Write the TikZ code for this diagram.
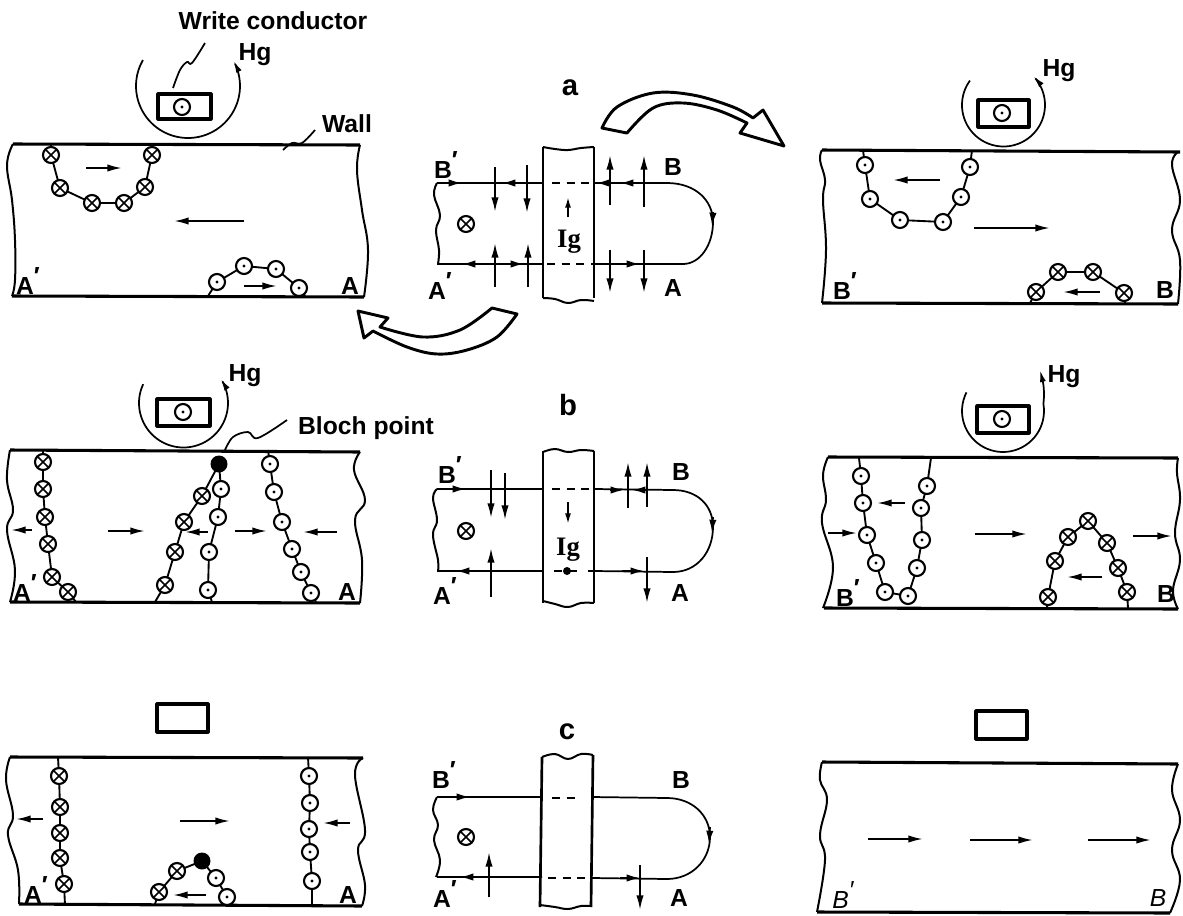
\documentclass[tikz,border=0pt]{standalone}
\usepackage{fontspec}
\setmainfont{Liberation Sans}
\newfontfamily\serifig{Liberation Serif}
\usetikzlibrary{arrows.meta}
\tikzset{
  band/.style={line width=1.5pt,line join=round},
  wallline/.style={line width=2.3pt},
  thin line/.style={line width=1.3pt},
  fieldarrow/.style={line width=1.4pt,-{Latex[length=11pt,width=5.5pt]}},
  smallarrow/.style={line width=1.3pt,-{Latex[length=8pt,width=4.5pt]}},
  headonly/.style={line width=1.3pt,-{Latex[length=10pt,width=5.5pt]}},
  arcarrow/.style={line width=1.3pt,-{Latex[length=9pt,width=4.5pt]}},
  label/.style={font=\bfseries\fontsize{18.5}{18.5}\selectfont,inner sep=0pt},
  biglabel/.style={font=\bfseries\fontsize{22}{22}\selectfont,inner sep=0pt},
  iglabel/.style={font=\serifig\bfseries\fontsize{20}{20}\selectfont,inner sep=0pt},
  itlabel/.style={font=\itshape\fontsize{18.5}{18.5}\selectfont,inner sep=0pt},
  conductor/.style={draw,line width=2.3pt,line join=round},
  curvedarrow/.style={draw,fill=white,line width=2.2pt,line join=round},
  barline/.style={line width=2pt},
  dashline/.style={line width=1.4pt,dash pattern=on 6pt off 5pt},
}
\newcommand{\pr}{\raisebox{.38em}{′}}
\newcommand{\dc}[2]{\draw[line width=1.6pt,fill=white] (#1,#2) circle[radius=8];\fill (#1,#2) circle[radius=1.6];}
\newcommand{\xc}[2]{\draw[line width=1.6pt,fill=white] (#1,#2) circle[radius=8];\draw[line width=1.3pt] (#1-5.6,#2-5.6)--(#1+5.6,#2+5.6) (#1-5.6,#2+5.6)--(#1+5.6,#2-5.6);}
\newcommand{\bloch}[2]{\fill (#1,#2) circle[radius=8.5];}
\newcommand{\ar}[4]{\draw[fieldarrow] (#1,#2)--(#3,#4);}
\newcommand{\sar}[4]{\draw[smallarrow] (#1,#2)--(#3,#4);}
\newcommand{\head}[4]{\draw[headonly] (#1,#2)--(#3,#4);}
\newcommand{\chainstraight}[1]{\draw[line width=1.4pt] plot coordinates{#1};}
\newcommand{\edge}[1]{\draw[band] plot[smooth,tension=.7] coordinates{#1};}
\newcommand{\harc}[5]{\draw[arcarrow] plot[domain=#4:#5,samples=40,smooth] ({#1+#3*cos(\x)},{#2+#3*sin(\x)});}
\begin{document}
\begin{tikzpicture}[x=0.75pt,y=-0.75pt]
\useasboundingbox (0,0) rectangle (1183,915);
% ---------- panel a left
\draw[wallline] (13,144)--(360,145) (12,296)--(364,297);
\edge{(13,144)(7,165)(12,200)(15,240)(15,280)(12,296)}
\edge{(360,145)(357,170)(362,210)(368,250)(364,297)}
\chainstraight{(51,145)(51,155)(60,188)(92,203)(124,203)(145,187)(152,155)(152,145)}
\xc{51}{155}\xc{152}{155}\xc{60}{188}\xc{145}{187}\xc{92}{203}\xc{124}{203}
\chainstraight{(208,296)(217,282)(244,266)(276,269)(299,288)(305,296)}
\dc{217}{282}\dc{244}{266}\dc{276}{269}\dc{299}{288}
\ar{86}{168}{122}{168}\ar{244}{221}{174}{221}\ar{244}{286}{277}{286}
\draw[conductor] (158,94) rectangle (211,119);\dc{182}{107}
\harc{188}{86}{52}{210}{-29}{}
\draw[thin line] plot[smooth,tension=.6] coordinates{(173,88)(180,70)(187,62)(192,63)(205,43)};
\draw[thin line] plot[smooth,tension=.6] coordinates{(283,150)(292,143)(302,143)(315,130)};
\node[label] (writelabel) at (273,21) {Write conductor};
\node[label] (hg1) at (255,55) {Hg};
\node[label] (wall) at (347,124) {Wall};
\node[label] (a1) at (28,281) {A\pr};
\node[label] (a2) at (350,286) {A};
% ---------- centre a
\draw[thin line] (437,183)--(543,183) (594,183)--(667,183) (437,264)--(543,264) (594,264)--(683,264);
\draw[thin line] (667,183) .. controls (695,183) and (713,200) .. (713,222) .. controls (713,245) and (700,264) .. (683,264);
\edge{(437,183)(434,195)(440,215)(436,230)(439,250)(438,264)}
\draw[barline] (543,147)--(543,298) (594,147)--(594,298);
\edge{(543,147)(555,149)(568,150)(581,148)(594,147)}
\edge{(543,298)(555,299)(568,303)(581,300)(594,301)}
\draw[dashline] (552,183)--(593,183) (547,264)--(593,264);
\head{446}{183}{462}{183}\head{518}{183}{502}{183}\head{612}{183}{596}{183}\head{636}{183}{620}{183}
\head{478}{264}{462}{264}\head{508}{264}{524}{264}\head{622}{264}{640}{264}
\head{713}{212}{712}{226}
\ar{495}{167}{495}{212}\ar{527}{165}{527}{213}\ar{495}{287}{495}{243}\ar{528}{287}{528}{243}
\ar{610}{205}{610}{155}\ar{644}{207}{644}{155}\ar{610}{250}{610}{293}\ar{644}{250}{644}{293}
\sar{568}{217}{568}{197}
\xc{466}{224}
\node[biglabel] (lbla) at (570,88) {a};
\node[label] (tb1) at (446,165) {B\pr};
\node[label] (tb2) at (673,167) {B};
\node[label] (ta1) at (440,286) {A\pr};
\node[label] (ta2) at (673,288) {A};
\node[iglabel] (ig1) at (569,242) {Ig};
% curved arrows
\draw[curvedarrow] plot[smooth,tension=.6] coordinates{(602,128)(617,107)(653,93)(693,95)(733,107)(753,118)}
  -- (763,110)--(784,146)--(740,133)--(747,123)
  -- plot[smooth,tension=.6] coordinates{(747,123)(717,110)(683,103)(653,108)(627,133)} -- cycle;
\draw[curvedarrow] (358,311)--(388,318)--(380,327)
  -- plot[smooth,tension=.6] coordinates{(380,327)(423,337)(460,330)(492,308)}
  -- (517,314)
  -- plot[smooth,tension=.6] coordinates{(517,314)(497,337)(467,350)(437,354)(407,347)(373,331)}
  -- (364,338)--cycle;
% ---------- panel a right
\draw[wallline] (822,150)--(1180,152) (822,303)--(1178,304);
\edge{(822,150)(820,160)(825,180)(823,200)(826,250)(822,303)}
\edge{(1178,152)(1172,165)(1180,200)(1172,230)(1180,260)(1178,304)}
\chainstraight{(863,150)(865,165)(870,199)(900,220)(943,222)(961,197)(970,167)(972,150)}
\dc{865}{165}\dc{970}{167}\dc{870}{199}\dc{961}{197}\dc{900}{220}\dc{943}{222}
\chainstraight{(1030,303)(1036,292)(1058,272)(1093,272)(1124,293)(1125,303)}
\xc{1036}{292}\xc{1058}{272}\xc{1093}{272}\xc{1124}{293}
\ar{940}{180}{893}{180}\ar{974}{228}{1050}{228}\ar{1100}{292}{1063}{292}
\draw[conductor] (978,100) rectangle (1029,127);\dc{1002}{113}
\harc{1003.5}{105}{41.5}{216}{-44}{}
\node[label] (hg2) at (1059,71) {Hg};
\node[label] (rb1) at (845,286) {B\pr};
\node[label] (rb2) at (1165,290) {B};
% ---------- panel b left
\draw[wallline] (10,450)--(360,452) (10,602)--(360,603);
\edge{(10,450)(7,480)(13,510)(7,530)(15,570)(10,602)}
\edge{(360,452)(354,470)(365,500)(355,520)(362,560)(360,603)}
\chainstraight{(43,450)(43,462)(43,489)(45,517)(48,544)(52,577)(68,592)(76,602)}
\xc{43}{462}\xc{43}{489}\xc{45}{517}\xc{48}{544}\xc{52}{577}\xc{68}{592}
\chainstraight{(219,464)(202,496)(184,522)(175,552)(165,585)(155,602)}
\xc{202}{496}\xc{184}{522}\xc{175}{552}\xc{165}{585}
\chainstraight{(219,464)(221,489)(218,517)(209,552)(208,590)(212,602)}
\dc{221}{489}\dc{218}{517}\dc{209}{552}\dc{208}{590}
\bloch{219}{464}
\chainstraight{(268,450)(270,464)(274,492)(282,522)(292,549)(301,572)(311,593)(316,602)}
\dc{270}{464}\dc{274}{492}\dc{282}{522}\dc{292}{549}\dc{301}{572}\dc{311}{593}
\ar{32}{530}{11}{530}\ar{108}{531}{145}{531}\ar{208}{532}{185}{532}\ar{235}{531}{267}{531}\ar{337}{532}{303}{532}
\draw[conductor] (157,399) rectangle (210,426);\dc{183}{412}
\harc{183.5}{403}{44.5}{205}{-33}{}
\draw[thin line] plot[smooth,tension=.6] coordinates{(225,450)(233,437)(248,432)(258,438)(287,420)};
\node[label] (hg3) at (245,376) {Hg};
\node[label] (blochlabel) at (366,428) {Bloch point};
\node[label] (ba1) at (25,588) {A\pr};
\node[label] (ba2) at (347,592) {A};
% ---------- centre b
\draw[thin line] (437,489)--(543,489) (594,489)--(673,490) (437,571)--(543,571) (594,571)--(673,572);
\draw[thin line] (673,490) .. controls (697,490) and (713,505) .. (713,527) .. controls (713,552) and (697,572) .. (673,572);
\edge{(437,489)(433,498)(437,520)(433,535)(438,560)(438,571)}
\draw[barline] (543,451)--(543,603) (594,451)--(594,603);
\edge{(543,452)(555,449)(568,452)(581,450)(594,451)}
\edge{(543,601)(555,604)(568,607)(581,603)(594,603)}
\draw[dashline] (552,489)--(593,489);
\draw[dashline] (554,571)--(580,571) (588,571)--(593,571);
\fill (567,571) circle[radius=4];
\head{446}{489}{466}{489}\head{610}{490}{624}{490}\head{648}{490}{632}{490}\head{480}{571}{456}{571}\head{622}{571}{644}{571}
\head{713}{517}{712}{533}
\ar{491}{470}{491}{518}\ar{505}{473}{505}{520}\ar{491}{597}{491}{548}\ar{628}{508}{628}{462}\ar{647}{507}{647}{462}\ar{647}{557}{647}{603}
\sar{568}{502}{568}{524}
\xc{466}{531}
\node[biglabel] (lblb) at (568,405) {b};
\node[label] (mb1) at (450,470) {B\pr};
\node[label] (mb2) at (681,472) {B};
\node[label] (ma1) at (445,591) {A\pr};
\node[label] (ma2) at (680,593) {A};
\node[iglabel] (ig2) at (568,550) {Ig};
% ---------- panel b right
\draw[wallline] (828,457)--(1178,458) (824,608)--(1178,609);
\edge{(828,457)(823,475)(826,500)(822,523)(833,567)(823,608)}
\edge{(1178,458)(1177,473)(1180,500)(1175,533)(1180,560)(1173,590)(1178,609)}
\chainstraight{(859,458)(861,476)(863,503)(867,535)(876,563)(885,592)(908,596)(917,568)(922,540)(921,508)(927,486)(931,458)}
\dc{861}{476}\dc{863}{503}\dc{867}{535}\dc{876}{563}\dc{885}{592}\dc{908}{596}\dc{917}{568}\dc{922}{540}\dc{921}{508}\dc{927}{486}
\chainstraight{(1047,608)(1048,597)(1055,561)(1068,537)(1088,521)(1107,543)(1118,568)(1127,592)(1128,608)}
\xc{1048}{597}\xc{1055}{561}\xc{1068}{537}\xc{1088}{521}\xc{1107}{543}\xc{1118}{568}\xc{1127}{592}
\ar{828}{533}{857}{533}\ar{905}{503}{877}{503}\ar{975}{534}{1027}{534}\ar{1102}{577}{1067}{577}\ar{1133}{536}{1172}{536}
\draw[conductor] (977,406) rectangle (1029,433);\dc{1002}{419}
\draw[arcarrow] plot[domain=207:-10,samples=40,smooth] ({1003+41*cos(\x)},{411+41*sin(\x)}) .. controls (1045,392) and (1043,382) .. (1040,370);
\node[label] (hg4) at (1064,377) {Hg};
\node[label] (rbb1) at (848,593) {B\pr};
\node[label] (rbb2) at (1166,594) {B};
% ---------- panel c left
\draw[conductor] (157,704) rectangle (208,732);
\draw[wallline] (10,757)--(363,758) (19,904)--(362,906);
\edge{(10,757)(6,780)(13,815)(8,835)(18,870)(19,904)}
\edge{(363,758)(355,775)(365,830)(358,850)(365,885)(362,906)}
\chainstraight{(58,757)(59,776)(60,807)(60,833)(60,858)(64,884)(65,905)}
\xc{59}{776}\xc{60}{807}\xc{60}{833}\xc{60}{858}\xc{64}{884}
\chainstraight{(308,757)(309,776)(310,803)(309,829)(310,852)(312,881)(312,905)}
\dc{309}{776}\dc{310}{803}\dc{309}{829}\dc{310}{852}\dc{312}{881}
\chainstraight{(155,904)(159,892)(177,871)(202,861)(216,878)(227,897)(231,904)}
\xc{159}{892}\xc{177}{871}\dc{216}{878}\dc{227}{897}
\bloch{202}{861}
\ar{43}{819}{16}{819}\ar{180}{821}{230}{821}\ar{350}{823}{323}{823}\ar{206}{895}{173}{895}
\node[label] (ca1) at (36,890) {A\pr};
\node[label] (ca2) at (348,895) {A};
% ---------- centre c
\draw[thin line] (437,797)--(542,797) (592,797)--(667,798) (437,877)--(542,877) (592,878)--(667,879);
\draw[thin line] (667,798) .. controls (692,798) and (710,815) .. (710,837) .. controls (710,860) and (692,879) .. (667,879);
\edge{(437,797)(433,810)(438,825)(434,840)(440,860)(436,877)}
\draw[barline] (542,757)--(540,907) (593,755)--(591,907);
\edge{(542,757)(555,754)(568,759)(581,754)(593,755)}
\edge{(540,905)(555,907)(568,909)(581,906)(591,906)}
\draw[dashline] (552,798)--(581,798) (548,878)--(590,878);
\head{450}{797}{470}{797}\head{478}{877}{460}{877}\head{620}{878}{640}{878}
\head{710}{827}{709}{844}
\ar{489}{897}{489}{852}\ar{640}{865}{640}{910}
\xc{466}{837}
\node[biglabel] (lblc) at (567,732) {c};
\node[label] (cb1) at (444,775) {B\pr};
\node[label] (cb2) at (681,780) {B};
\node[label] (cm1) at (445,894) {A\pr};
\node[label] (cm2) at (679,898) {A};
% ---------- panel c right
\draw[conductor] (976,711) rectangle (1027,739);
\draw[wallline] (822,762)--(1178,764) (817,912)--(1170,913);
\edge{(822,762)(820,780)(827,800)(820,835)(825,860)(817,912)}
\edge{(1178,764)(1172,790)(1180,820)(1172,850)(1180,880)(1170,913)}
\ar{868}{839}{923}{839}\ar{970}{840}{1033}{840}\ar{1088}{840}{1151}{840}
\node[itlabel] (rc1) at (843,895) {B\pr};
\node[itlabel] (rc2) at (1158,898) {B};
\end{tikzpicture}
\end{document}
